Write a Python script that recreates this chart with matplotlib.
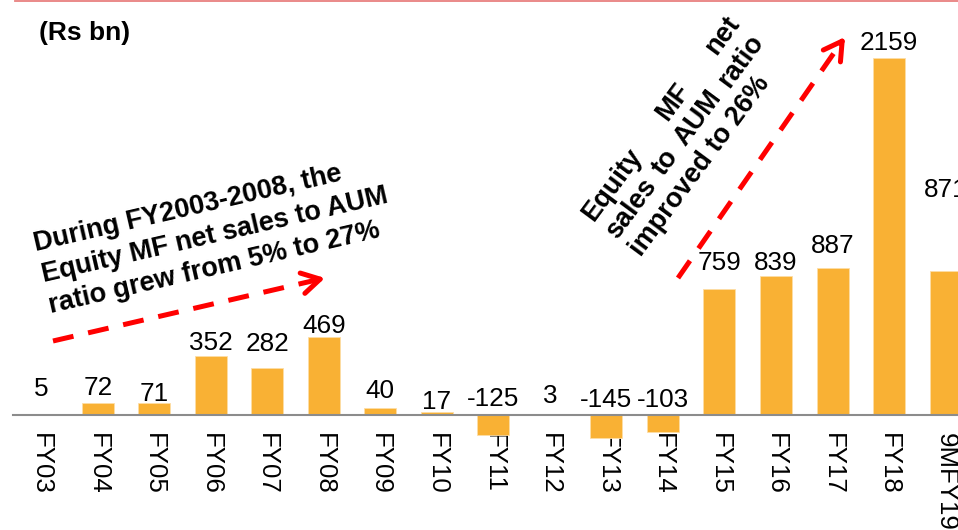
import numpy as np
import matplotlib
matplotlib.use("Agg")
import matplotlib.pyplot as plt
from matplotlib.lines import Line2D
from matplotlib.patches import FancyArrowPatch

# Equity MF net sales (Rs bn)
categories = ["FY03", "FY04", "FY05", "FY06", "FY07", "FY08", "FY09", "FY10",
              "FY11", "FY12", "FY13", "FY14", "FY15", "FY16", "FY17", "FY18",
              "9MFY19"]
net_sales = [5, 72, 71, 352, 282, 469, 40, 17, -125, 3, -145, -103,
             759, 839, 887, 2159, 871]

# gap (pixels) between each bar end and its value label
label_lift_px = [18, 8, 2, 6, 17, 4, 10, 3, 9, 11, 8, 8, 19, 6, 15, 8, 74]

left_note = ["During FY2003-2008, the",
             "Equity MF net sales to AUM",
             "ratio grew from 5% to 27%"]
right_note = ["Equity MF net",
              "sales to AUM ratio",
              "improved to 26%"]

plt.rcParams["font.family"] = ["Liberation Sans", "DejaVu Sans"]

W, H = 958, 530
fig = plt.figure(figsize=(W / 100, H / 100), dpi=100)
ax = fig.add_axes([13 / W, 30 / H, 945 / W, 495 / H])

BAR = "#F9B134"
RED = "#FF0000"

x = np.arange(len(categories))
ax.bar(x, net_sales, width=0.566, color=BAR, edgecolor="#FDDDA6",
       linewidth=0.6, zorder=2)
ax.set_xlim(-0.5, 16.22)
ax.set_ylim(-517, 2477)

for side in ("top", "right", "left"):
    ax.spines[side].set_visible(False)
ax.spines["bottom"].set_position(("data", 0))
ax.spines["bottom"].set_color("#8C8C8C")
ax.spines["bottom"].set_linewidth(1.5)
ax.spines["bottom"].set_zorder(3)
ax.set_yticks([])
ax.set_xticks(x, categories, rotation=270, fontsize=18.6)
ax.tick_params(axis="x", length=0, pad=13)

for xi, v, lift in zip(x, net_sales, label_lift_px):
    ax.annotate(f"{v}", xy=(xi, max(v, 0)), xytext=(0, lift * 0.72),
                textcoords="offset points", ha="center", va="baseline",
                fontsize=18.8, annotation_clip=False)


def fp(px, py):
    """Pixel position (origin top-left) -> figure fraction."""
    return px / W, 1 - py / H


# thin rule along the top edge
fig.add_artist(Line2D([15 / W, 1.0], [1 - 0.6 / H] * 2, color="#E8807F",
                      lw=1.3, transform=fig.transFigure))

fig.text(*fp(39, 33), "(Rs bn)", fontsize=19, weight="bold",
         ha="left", va="center")


def dashed_arrow(start, tip):
    s = np.array(start, float)
    t = np.array(tip, float)
    d = (t - s) / np.linalg.norm(t - s)
    end = t - 4 * d
    fig.add_artist(Line2D([s[0] / W, end[0] / W], [1 - s[1] / H, 1 - end[1] / H],
                          color=RED, lw=3.6, linestyle=(0, (4.2, 3.0)),
                          dash_capstyle="butt", transform=fig.transFigure))
    back = t - 8 * d
    fig.add_artist(FancyArrowPatch(fp(*back), fp(*t),
                                   arrowstyle="->,head_length=1.3,head_width=0.75",
                                   mutation_scale=10, lw=3.6, color=RED,
                                   shrinkA=0, shrinkB=0,
                                   transform=fig.transFigure))


dashed_arrow((53, 341), (325, 278))
dashed_arrow((678, 278), (845, 37))

note_style = dict(fontsize=19.5, weight="bold", color="black")


def rotated_lines(lines, start, angle, gap, justify_width=None):
    th = np.deg2rad(angle)
    u = np.array([np.cos(th), -np.sin(th)])
    n = np.array([np.sin(th), np.cos(th)])
    renderer = fig.canvas.get_renderer()

    def width(s):
        t = fig.text(0, 0, s, **note_style)
        w = t.get_window_extent(renderer).width
        t.remove()
        return w

    for i, line in enumerate(lines):
        p = np.array(start, float) + i * gap * n
        words = line.split()
        if justify_width and i < len(lines) - 1 and len(words) > 1:
            widths = [width(w) for w in words]
            space = (justify_width - sum(widths)) / (len(words) - 1)
            off = 0.0
            for w, wd in zip(words, widths):
                q = p + off * u
                fig.text(*fp(*q), w, rotation=angle, rotation_mode="anchor",
                         ha="left", va="baseline", **note_style)
                off += wd + space
        else:
            fig.text(*fp(*p), line, rotation=angle, rotation_mode="anchor",
                     ha="left", va="baseline", **note_style)


rotated_lines(left_note, (36, 251), 13, 32)
rotated_lines(right_note, (593, 222), 53.5, 30, justify_width=247)

fig.savefig("out.png", dpi=100)
